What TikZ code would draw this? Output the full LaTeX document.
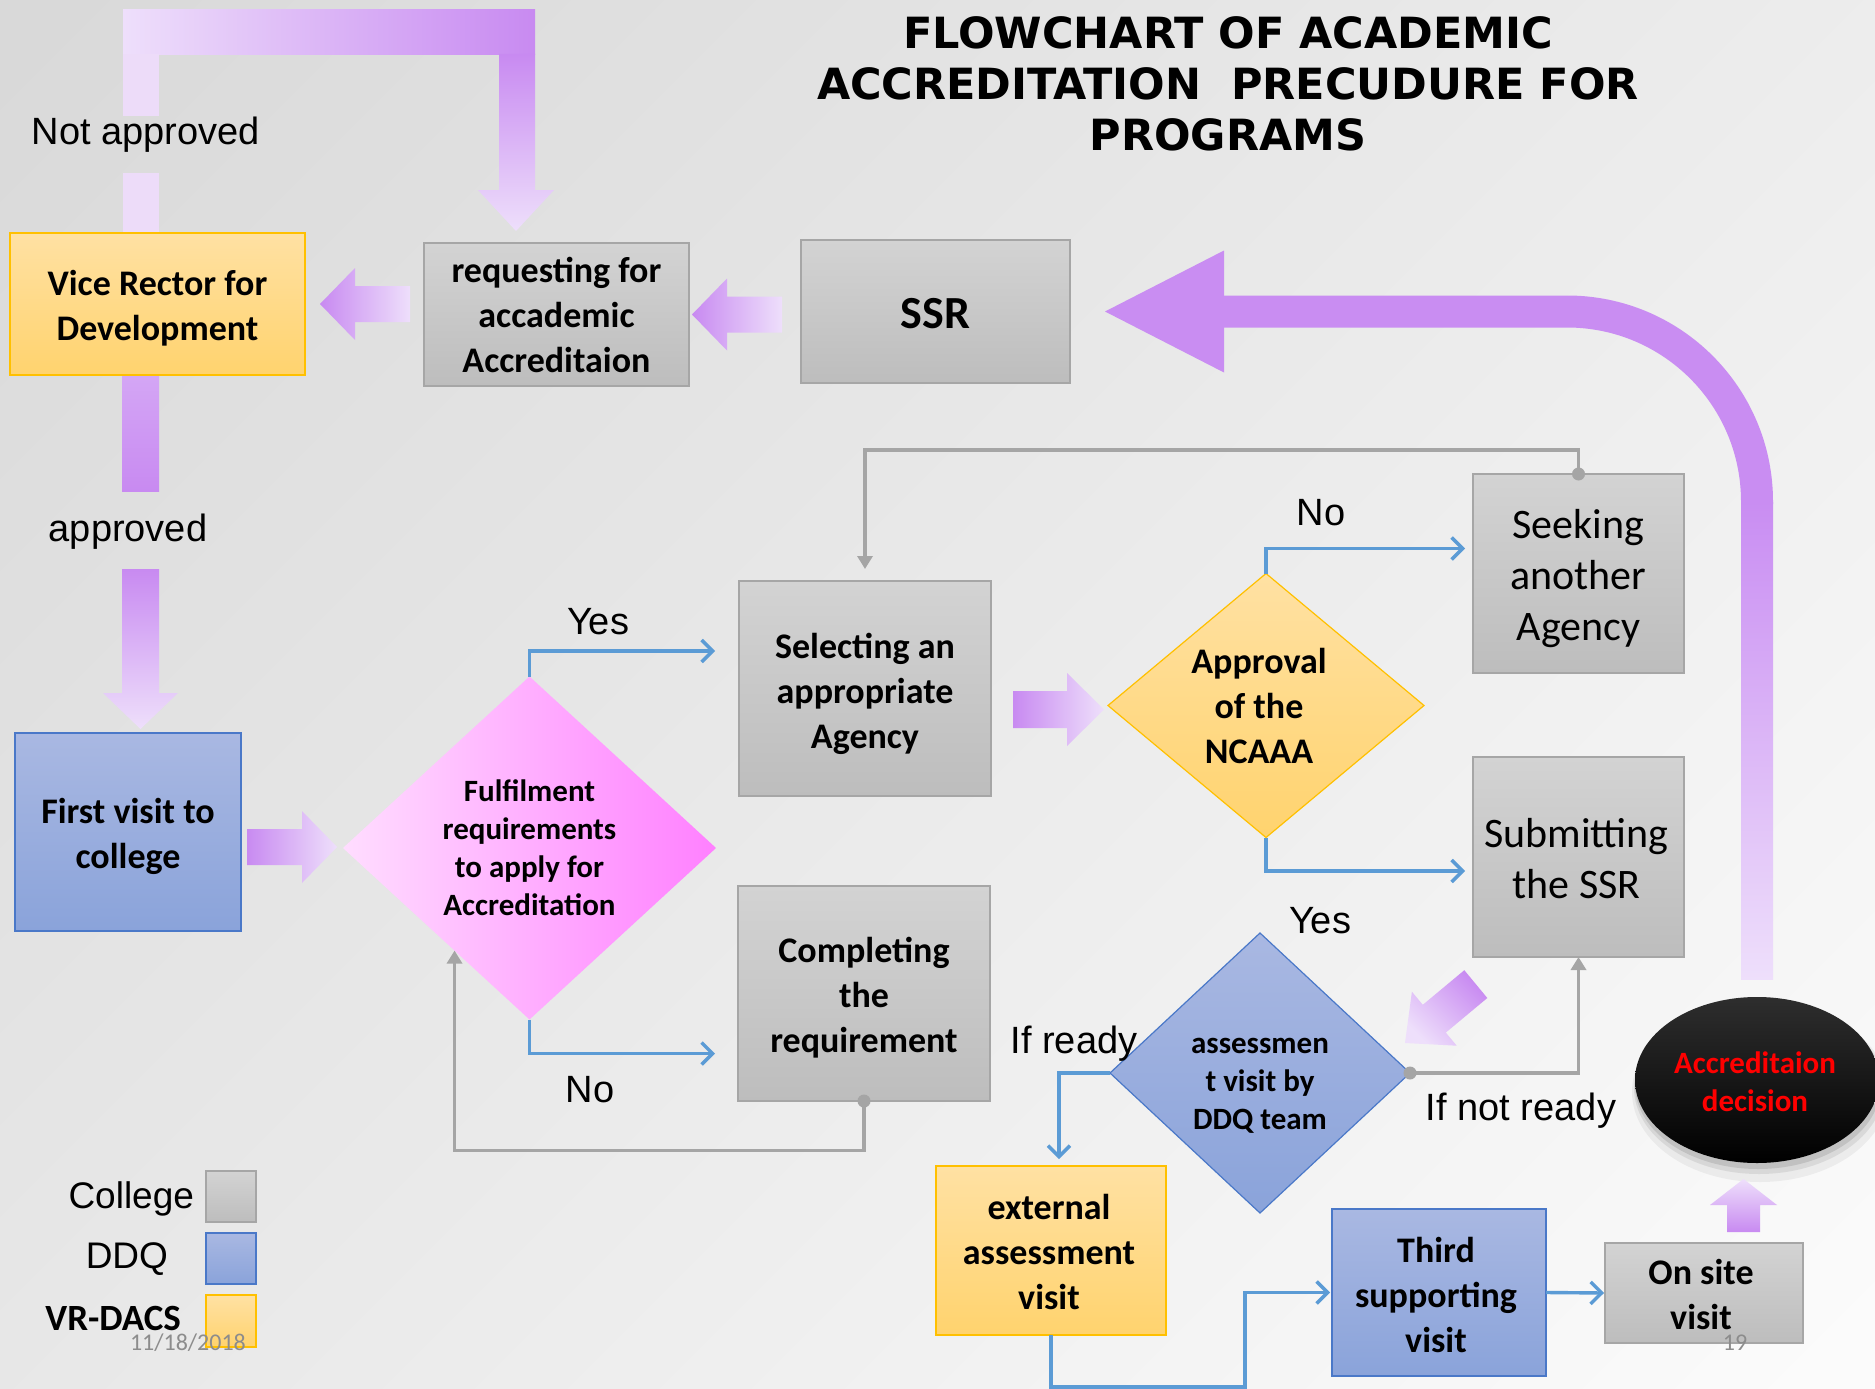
\documentclass[tikz,border=0pt]{standalone}
\usepackage{fontspec}
\setmainfont{Carlito}
\newfontfamily\arialf{Liberation Sans}
\newfontfamily\titlef{DejaVu Sans}
\usetikzlibrary{shapes.geometric,arrows.meta,calc}
\definecolor{bgA}{HTML}{D9D9D9}
\definecolor{bgB}{HTML}{FBFBFB}
\definecolor{grayT}{HTML}{D3D3D3}
\definecolor{grayB}{HTML}{BDBDBD}
\definecolor{grayE}{HTML}{A6A6A6}
\definecolor{yelT}{HTML}{FFE1A3}
\definecolor{yelB}{HTML}{FFD36E}
\definecolor{yelE}{HTML}{FFC000}
\definecolor{bluT}{HTML}{A9B8E2}
\definecolor{bluB}{HTML}{8AA3DA}
\definecolor{bluE}{HTML}{4A78C8}
\definecolor{pinkL}{HTML}{FFDDFF}
\definecolor{pinkR}{HTML}{FF80FF}
\definecolor{purD}{HTML}{C88AF1}
\definecolor{purM}{HTML}{D4A6F5}
\definecolor{purS}{HTML}{C98DF2}
\definecolor{purL}{HTML}{EEDFFB}
\definecolor{purP}{HTML}{EDDCF9}
\definecolor{lineB}{HTML}{5B9BD5}
\definecolor{lineG}{HTML}{A5A5A5}
\definecolor{dateG}{HTML}{8C8C8C}
\begin{document}
\begin{tikzpicture}[x=1pt,y=-1pt,
  every node/.style={inner sep=0pt,outer sep=0pt},
  boxtxt/.style={align=center,font=\fontsize{36}{45}\selectfont\bfseries},
  smalltxt/.style={align=center,font=\fontsize{31}{38}\selectfont\bfseries},
  regtxt/.style={align=center,font=\fontsize{42}{51}\selectfont},
  gbox/.style={rectangle,draw=grayE,line width=1.6pt,top color=grayT,bottom color=grayB},
  ybox/.style={rectangle,draw=yelE,line width=1.6pt,top color=yelT,bottom color=yelB},
  bbox/.style={rectangle,draw=bluE,line width=1.4pt,top color=bluT,bottom color=bluB},
  blueline/.style={draw=lineB,line width=3.4pt,-{Straight Barb[length=11pt,width=22pt]}},
  grayline/.style={draw=lineG,line width=3.6pt,-{Triangle[length=13pt,width=15pt]}},
  lab/.style={font=\arialf\fontsize{38}{44}\selectfont},
  ]
\useasboundingbox (0,0) rectangle (1875,1389);
\clip (0,0) rectangle (1875,1389);
\shade[top color=bgA,bottom color=bgB,shading angle=45] (-300,-300) rectangle (2175,1689);

% ---------- big purple U arrow (not approved) ----------
\shade[left color=purL,right color=purD] (123,10) rectangle (535,55);
\fill[purP] (123,54) rectangle (159,116);
\fill[purP] (123,173) rectangle (159,233);
\shade[top color=purD,bottom color=purL] (499,54) -- (535,54) -- (535,190) -- (554,190) -- (516,231) -- (478,190) -- (499,190) -- cycle;

% ---------- approved arrow ----------
\shade[top color=purM,bottom color=purD] (122,376) rectangle (159,491);
\shade[top color=purD,bottom color=purL] (122,569) -- (159,569) -- (159,693) -- (178,693) -- (140.5,729) -- (103,693) -- (122,693) -- cycle;

% ---------- nodes ----------
\node[ybox,minimum width=295pt,minimum height=142pt] (vice) at (157.5,304) {};
\node[gbox,minimum width=265pt,minimum height=143pt] (req) at (556.5,314.5) {};
\node[gbox,minimum width=269pt,minimum height=143pt] (ssr) at (935.5,311.5) {};
\node[bbox,minimum width=226pt,minimum height=198pt] (first) at (128,832) {};
\node[diamond,minimum width=373pt,minimum height=343pt,left color=pinkL,right color=pinkR] (ful) at (529.5,848) {};
\node[gbox,minimum width=252pt,minimum height=215pt] (sel) at (865,688.5) {};
\node[gbox,minimum width=252pt,minimum height=215pt] (comp) at (864,993.5) {};
\node[diamond,draw=yelE,line width=1.2pt,minimum width=316pt,minimum height=264pt,top color=yelT,bottom color=yelB] (appr) at (1266,705.5) {};
\node[gbox,minimum width=211pt,minimum height=199pt] (seek) at (1578.5,573.5) {};
\node[gbox,minimum width=211pt,minimum height=200pt] (sub) at (1578.5,857) {};
\node[diamond,draw=bluE,line width=1.2pt,minimum width=300pt,minimum height=280pt,top color=bluT,bottom color=bluB] (assess) at (1260,1073) {};
\node[ybox,minimum width=230pt,minimum height=169pt] (ext) at (1051,1250.5) {};
\node[bbox,minimum width=214pt,minimum height=167pt] (third) at (1439,1292.5) {};
\node[gbox,minimum width=198pt,minimum height=100pt] (onsite) at (1704,1293) {};

% shadow + decision ellipse
\fill[black,opacity=0.05] (1760,1092) ellipse (128pt and 90pt);
\fill[black,opacity=0.08] (1759,1088) ellipse (125pt and 86pt);
\fill[black,opacity=0.10] (1758,1085) ellipse (123pt and 84pt);
\node[ellipse,minimum width=244pt,minimum height=166pt,top color=black!82,bottom color=black] (dec) at (1757,1080) {};

% legend squares
\node[gbox,minimum width=50pt,minimum height=51pt] (lgC) at (231,1196.5) {};
\node[bbox,minimum width=50pt,minimum height=51pt] (lgD) at (231,1258.5) {};
\node[ybox,minimum width=50pt,minimum height=52pt] (lgV) at (231,1321) {};

% ---------- return arrow (decision -> SSR) ----------
\coordinate (rtail) at ($(dec.north)+(0,-18)$);
\shade[top color=purS,bottom color=purL] ($(rtail)+(-16,0)$) rectangle ($(rtail)+(16,-477)$);
\draw[purS,line width=32pt,rounded corners=190pt] ($(rtail)+(0,-475)$) |- ($(ssr.east)+(152,0)$);
\fill[purS] ($(ssr.east)+(35,0)$) -- ($(ssr.east)+(154,-61)$) -- ($(ssr.east)+(154,61)$) -- cycle;

% ---------- block arrows ----------
\begin{scope}[shift={(vice.east)}]
\shade[left color=purD,right color=purL] (105,-18) -- (50,-18) -- (50,-36) -- (15,0) -- (50,36) -- (50,18) -- (105,18) -- cycle;
\end{scope}
\begin{scope}[shift={(req.east)}]
\shade[left color=purD,right color=purL] (93,-18) -- (38,-18) -- (38,-36) -- (3,0) -- (38,36) -- (38,18) -- (93,18) -- cycle;
\end{scope}
\begin{scope}[shift={(ful.west)}]
\shade[left color=purD,right color=purL] (-96,-19) -- (-41,-19) -- (-41,-37) -- (-6,-1) -- (-41,35) -- (-41,17) -- (-96,17) -- cycle;
\end{scope}
\begin{scope}[shift={(appr.west)}]
\shade[left color=purD,right color=purL] (-95,-14.5) -- (-41,-14.5) -- (-41,-32.5) -- (-4,4) -- (-41,40.5) -- (-41,22.5) -- (-95,22.5) -- cycle;
\end{scope}
\begin{scope}[shift={(onsite.north)}]
\shade[top color=purL,bottom color=purD] (23,-11) -- (23,-38) -- (6,-38) -- (39.5,-64) -- (73,-38) -- (56,-38) -- (56,-11) -- cycle;
\end{scope}
\begin{scope}[shift={(assess.east)}]
\shade[top color=purD,bottom color=purL,shading angle=-45] (77.3,-75) -- (35.8,-40.4) -- (46.7,-27.3) -- (-5,-30) -- (1.9,-81.3) -- (12.8,-68.2) -- (54.3,-102.8) -- cycle;
\end{scope}

% ---------- connectors ----------
\draw[blueline] (ful.north) |- ($(sel.west)+(-24,-37.5)$);
\draw[blueline] (ful.south) |- ($(comp.west)+(-23,60)$);
\draw[blueline] (appr.north) |- ($(seek.west)+(-8,-25)$);
\draw[blueline] (appr.south) |- ($(sub.west)+(-8,14)$);
\draw[blueline] (assess.west) -| ($(ext.north)+(8,-7)$);
\draw[blueline] (ext.south) -- ++(0,52) -| ($(third.west)+(-87,0)$) -- ($(third.west)+(-2,0)$);
\draw[blueline] (third.east) -- ($(onsite.west)+(-1,0)$);

\draw[grayline] (comp.south) -- ++(0,49.5) -| ($(ful.west)!0.598!(ful.south)$);
\fill[lineG] (comp.south) circle (6.5pt);
\draw[grayline,shorten >=12pt] (seek.north) -- ++(0,-24) -| (sel.north);
\fill[lineG] (seek.north) circle (6.5pt);
\draw[grayline] (assess.east) -| (sub.south);
\fill[lineG] (assess.east) circle (6.5pt);

% ---------- texts ----------
\node[anchor=north,align=center,font=\titlef\bfseries\fontsize{43}{51}\selectfont] (title) at (1228,17) {FLOWCHART OF ACADEMIC\\ACCREDITATION\ \ PRECUDURE FOR\\PROGRAMS};
\node[boxtxt] (viceT) at ($(vice.center)+(0,4)$) {Vice Rector for\\Development};
\node[boxtxt] (reqT) at (req.center) {requesting for\\accademic\\Accreditaion};
\node[font=\fontsize{46}{52}\selectfont\bfseries] (ssrT) at ($(ssr.center)+(0,2)$) {SSR};
\node[boxtxt] (firstT) at ($(first.center)+(0,4)$) {First visit to\\college};
\node[smalltxt] (fulT) at (ful.center) {Fulfilment\\requirements\\to apply for\\Accreditation};
\node[boxtxt] (selT) at ($(sel.center)+(0,5)$) {Selecting an\\appropriate\\Agency};
\node[boxtxt] (compT) at ($(comp.center)+(0,4)$) {Completing\\the\\requirement};
\node[boxtxt] (apprT) at ($(appr.center)+(-7,0)$) {Approval\\of the\\NCAAA};
\node[regtxt] (seekT) at ($(seek.center)+(0,5)$) {Seeking\\another\\Agency};
\node[regtxt] (subT) at ($(sub.center)+(-2,2)$) {Submitting\\the SSR};
\node[smalltxt] (assessT) at ($(assess.center)+(0,13)$) {assessmen\\t visit by\\DDQ team};
\node[boxtxt] (extT) at ($(ext.center)+(-2,1)$) {external\\assessment\\visit};
\node[boxtxt] (thirdT) at ($(third.center)+(-3,2)$) {Third\\supporting\\visit};
\node[boxtxt] (onsiteT) at ($(onsite.center)+(-3,1)$) {On site\\visit};
\node[smalltxt,text=red] (decT) at ($(dec.center)+(-2,2)$) {Accreditaion\\decision};

\node[lab,anchor=base] (lNot) at (146,144) {Not approved};
\node[lab,anchor=base] (lApp) at (128,541) {approved};
\node[lab,anchor=base] (lYes1) at (598,634) {Yes};
\node[lab,anchor=base] (lNo1) at (590,1102) {No};
\node[lab,anchor=base] (lNo2) at (1321,525) {No};
\node[lab,anchor=base] (lYes2) at (1320,933) {Yes};
\node[lab,anchor=base] (lRdy) at (1074,1053) {If ready};
\node[lab,anchor=base] (lNRdy) at (1521,1120) {If not ready};

\node[lab,anchor=base east,font=\arialf\fontsize{37}{44}\selectfont] (lgCT) at (194,1208) {College};
\node[lab,anchor=base east,font=\arialf\fontsize{37}{44}\selectfont] (lgDT) at (168,1268) {DDQ};
\node[anchor=base east,font=\fontsize{37}{44}\selectfont\bfseries] (lgVT) at (181,1330) {VR-DACS};
\node[anchor=base west,text=dateG,font=\fontsize{24}{28}\selectfont] (date) at (130,1350) {11/18/2018};
\node[anchor=base,text=dateG,font=\fontsize{24}{28}\selectfont] (page) at (1735,1350) {19};
\end{tikzpicture}
\end{document}
